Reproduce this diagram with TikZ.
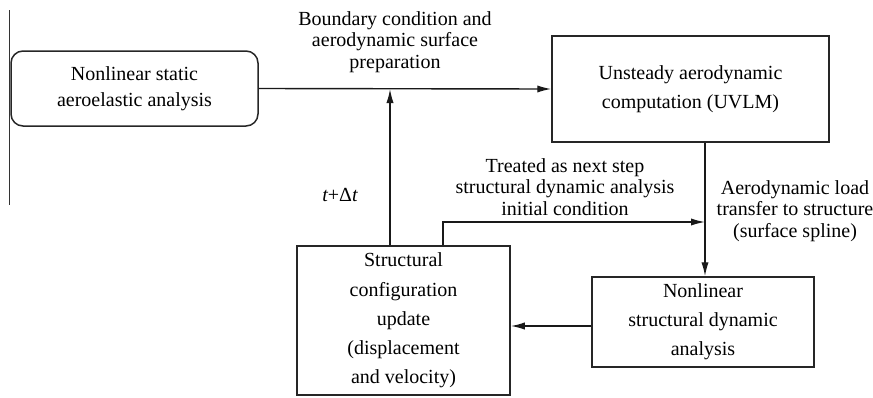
\documentclass[tikz,border=0pt]{standalone}
\usepackage{fontspec}
\setmainfont{Liberation Serif}
\usepackage{tikz}
\usetikzlibrary{
  arrows.meta,
  shapes.misc,
  positioning
}

\begin{document}
\begin{tikzpicture}[
      x=0.5pt,y=-0.5pt,
      process/.style={
         rectangle,
         line width=0.75pt,
         draw=black!85,
         align=center,
         inner sep=2pt,
         font=\fontsize{10}{14.6}\selectfont
      },
      startbox/.style={
         process,
         rounded corners=6pt,
         font=\fontsize{10}{13}\selectfont
      },
      note/.style={
         align=center,
         inner sep=0pt,
         font=\fontsize{10}{10.8}\selectfont
      },
      >={Latex[length=7pt,width=3.6pt]},
      flow/.style={->,line width=0.7pt,draw=black!90}
    ]
    \useasboundingbox (0,0) rectangle (873,397);
    % frame rule on the left
    \draw[line width=0.7pt,black!80] (9.5,10) -- (9.5,205);

    % blocks
    \node (static) [startbox, minimum width=123.5pt, minimum height=37.5pt]
          at (134.5,88.5) {Nonlinear static\\aeroelastic analysis};
    \node (uvlm) [process, minimum width=138.5pt, minimum height=53pt]
          at (690.5,89) {Unsteady aerodynamic\\computation (UVLM)};
    \node (nsd) [process, minimum width=111pt, minimum height=45pt]
          at (703,322) {Nonlinear\\structural dynamic\\analysis};
    \node (scu) [process, minimum width=106.5pt, minimum height=74.5pt]
          at (403.5,320.5) {Structural\\configuration\\update\\(displacement\\and velocity)};

    % junction points
    \coordinate (j1) at (390,89);
    \coordinate (j2) at (705,222);
    \coordinate (j3) at (443,222);
    \coordinate (j4) at (551,326);

    % connectors
    \draw[flow] (static.east) -- (uvlm.west);
    \draw[flow] (scu.north -| j1) -- (j1);
    \draw[flow] (uvlm.south -| j2) -- (nsd.north -| j2);
    \draw[flow] (scu.north -| j3) -- (j3) -- (j2);
    \draw[flow] (nsd.west |- j4) -- (scu.east |- j4);

    % labels
    \node (lbound) [note] at (395,42)
          {Boundary condition and\\aerodynamic surface\\preparation};
    \node (ltime) [note] at (340,195) {{\itshape t}+Δ{\itshape t}};
    \node (lnext) [note] at (565,187)
          {Treated as next step\\structural dynamic analysis\\initial condition};
    \node (lload) [note] at (795,211)
          {Aerodynamic load\\transfer to structure\\(surface spline)};
\end{tikzpicture}
\end{document}
